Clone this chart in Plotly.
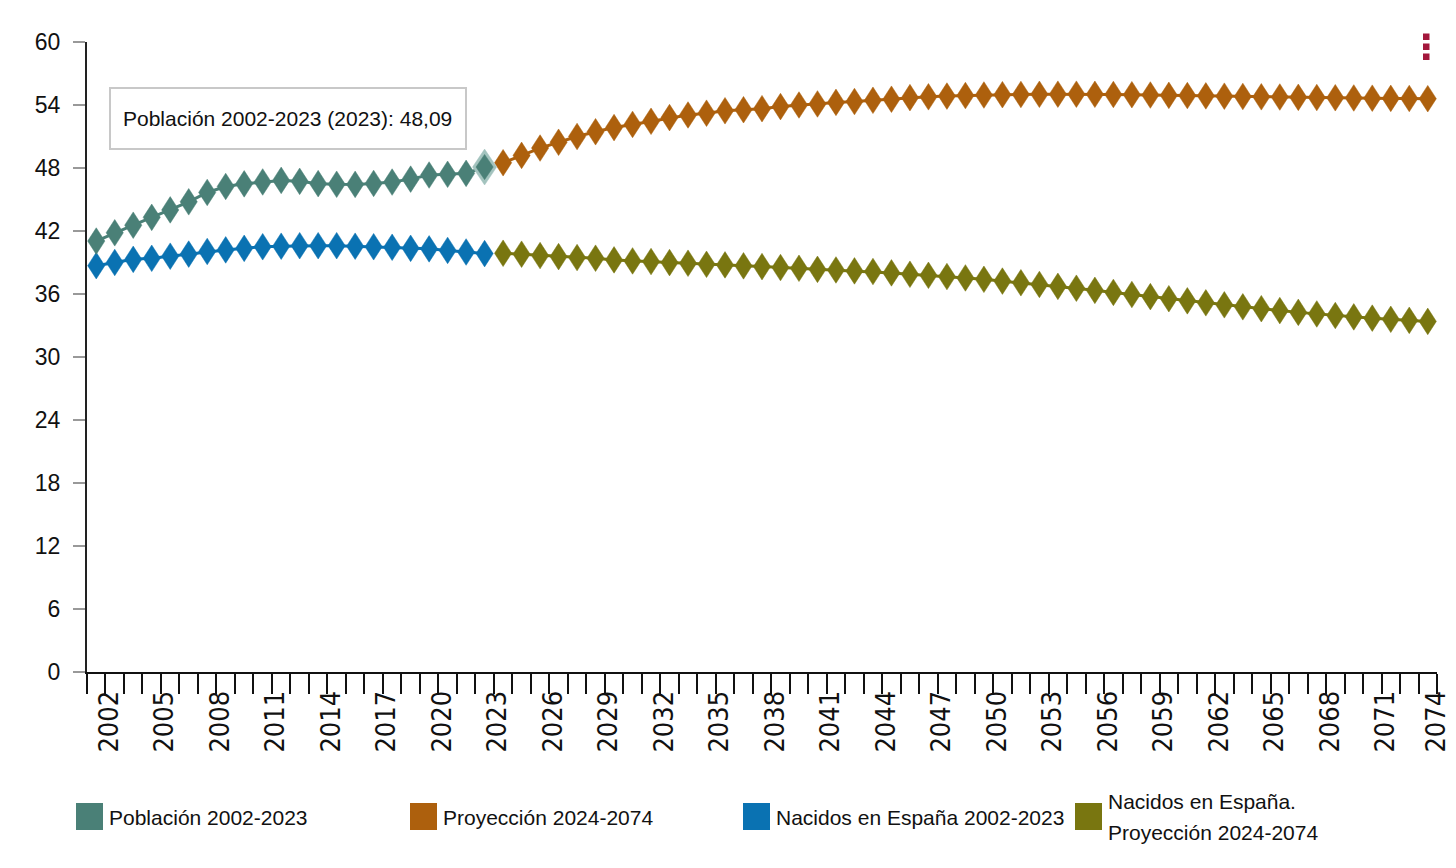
import plotly.graph_objects as go

# ---------------- data ----------------
years_hist = list(range(2002, 2024))
years_proj = list(range(2024, 2075))

poblacion = [41.04, 41.83, 42.55, 43.30, 44.01, 44.78, 45.67, 46.24, 46.49, 46.67,
             46.82, 46.73, 46.51, 46.45, 46.44, 46.53, 46.66, 46.94, 47.33, 47.40,
             47.49, 48.09]

nacidos = [38.70, 39.00, 39.30, 39.40, 39.60, 39.80, 40.05, 40.20, 40.35, 40.50,
           40.55, 40.60, 40.60, 40.60, 40.55, 40.50, 40.45, 40.35, 40.30, 40.15,
           40.00, 39.85]

proyeccion = [48.50, 49.20, 49.90, 50.45, 51.00, 51.45, 51.85, 52.15, 52.45, 52.80,
              53.05, 53.22, 53.45, 53.55, 53.65, 53.85, 54.00, 54.10, 54.25, 54.33,
              54.45, 54.55, 54.70, 54.78, 54.85, 54.90, 54.95, 54.98, 55.00, 55.02,
              55.03, 55.03, 55.02, 55.00, 54.98, 54.95, 54.92, 54.90, 54.87, 54.84,
              54.81, 54.78, 54.76, 54.73, 54.71, 54.69, 54.67, 54.65, 54.63, 54.62,
              54.60]

nacidos_proy = [39.88, 39.79, 39.66, 39.56, 39.47, 39.41, 39.25, 39.15, 39.09, 38.99,
                38.93, 38.83, 38.77, 38.68, 38.61, 38.52, 38.45, 38.35, 38.29, 38.20,
                38.14, 38.01, 37.88, 37.78, 37.66, 37.53, 37.40, 37.23, 37.07, 36.91,
                36.73, 36.55, 36.35, 36.15, 35.95, 35.75, 35.55, 35.35, 35.16, 34.97,
                34.78, 34.60, 34.42, 34.25, 34.10, 33.95, 33.82, 33.70, 33.59, 33.49,
                33.39]

series_names = ["Población 2002-2023", "Proyección 2024-2074",
                "Nacidos en España 2002-2023", "Nacidos en España. Proyección 2024-2074"]
label_years = list(range(2002, 2075, 3))
y_ticks = list(range(0, 61, 6))
tooltip_text = "Población 2002-2023 (2023): 48,09"

# ---------------- style ----------------
C_TEAL = "#4a8077"
C_ORANGE = "#ad600d"
C_BLUE = "#0a72b2"
C_OLIVE = "#797610"
C_HALO = "#a3c3be"
FONT = "Liberation Sans, Arial, sans-serif"
NARROW = "DejaVu Sans Condensed, sans-serif"

OFF = 8                      # default body margin of the html page
W, H = 1456 - OFF, 868 - OFF
L, T = 87 - OFF, 42 - OFF
R = W - (1437 - OFF)
B = H - (672 - OFF)
PW = W - L - R
PH = H - T - B
X0, X1 = 2001.5, 2074.5
Y0, Y1 = 0, 60

# marker half sizes expressed in axis units (tall diamonds like the original)
HALF_W_PX, HALF_H_PX = 8.6, 13.3
DX = HALF_W_PX * (X1 - X0) / PW
DY = HALF_H_PX * (Y1 - Y0) / PH


def xp(px):
    return (px - OFF - L) / PW


def yp(py):
    return (H + OFF - B - py) / PH


def diamonds(xs, ys, sx=1.0, sy=1.0):
    px, py = [], []
    for x, y in zip(xs, ys):
        px += [x - DX * sx, x, x + DX * sx, x, x - DX * sx, None]
        py += [y, y + DY * sy, y, y - DY * sy, y, None]
    return px, py


fig = go.Figure()


def add_series(x, y, color):
    fig.add_trace(go.Scatter(
        x=x, y=y, mode="lines", cliponaxis=False, showlegend=False,
        line=dict(color=color, width=3), hoverinfo="skip"))
    dx, dy = diamonds(x, y)
    fig.add_trace(go.Scatter(
        x=dx, y=dy, mode="lines", fill="toself", fillcolor=color,
        line=dict(color=color, width=0.5), cliponaxis=False, showlegend=False,
        hoverinfo="skip"))


add_series(years_hist, nacidos, C_BLUE)
add_series(years_proj, nacidos_proy, C_OLIVE)
add_series(years_proj, proyeccion, C_ORANGE)
add_series(years_hist, poblacion, C_TEAL)

# hovered point (2023) with halo
hx, hy = diamonds([years_hist[-1]], [poblacion[-1]], 1.4, 1.35)
fig.add_trace(go.Scatter(x=hx, y=hy, mode="lines", fill="toself", fillcolor=C_HALO,
                         line=dict(color=C_HALO, width=0.5), cliponaxis=False,
                         showlegend=False, hoverinfo="skip"))
ix, iy = diamonds([years_hist[-1]], [poblacion[-1]], 1.0, 0.95)
fig.add_trace(go.Scatter(x=ix, y=iy, mode="lines", fill="toself", fillcolor=C_TEAL,
                         line=dict(color=C_TEAL, width=0.5), cliponaxis=False,
                         showlegend=False, hoverinfo="skip"))

shapes = []
annotations = []

# tooltip box
shapes.append(dict(type="rect", xref="paper", yref="paper",
                   x0=xp(110), x1=xp(466), y0=yp(149), y1=yp(88),
                   fillcolor="white", line=dict(color="#c8c8c8", width=2), layer="above"))
annotations.append(dict(xref="paper", yref="paper", x=xp(121), y=yp(118),
                        xanchor="left", yanchor="middle", showarrow=False,
                        text=tooltip_text, font=dict(family=FONT, size=21, color="#111")))

# legend (manual)
leg_colors = [C_TEAL, C_ORANGE, C_BLUE, C_OLIVE]
leg_x = [76, 410, 743, 1075]
for i, (lx, col) in enumerate(zip(leg_x, leg_colors)):
    shapes.append(dict(type="rect", xref="paper", yref="paper",
                       x0=xp(lx), x1=xp(lx + 27), y0=yp(830), y1=yp(803),
                       fillcolor=col, line=dict(width=0)))
    if i < 3:
        annotations.append(dict(xref="paper", yref="paper", x=xp(lx + 31), y=yp(817),
                                xanchor="left", yanchor="middle", showarrow=False,
                                text=series_names[i],
                                font=dict(family=FONT, size=21, color="#111")))
    else:
        first, second = series_names[i].split(". ")
        annotations.append(dict(xref="paper", yref="paper", x=xp(lx + 31), y=yp(801),
                                xanchor="left", yanchor="middle", showarrow=False,
                                text=first + ".",
                                font=dict(family=FONT, size=21, color="#111")))
        annotations.append(dict(xref="paper", yref="paper", x=xp(lx + 31), y=yp(832),
                                xanchor="left", yanchor="middle", showarrow=False,
                                text=second,
                                font=dict(family=FONT, size=21, color="#111")))

# menu icon (three small squares)
for yy in (33.5, 43.5, 53.5):
    shapes.append(dict(type="rect", xref="paper", yref="paper",
                       x0=xp(1423), x1=xp(1429.5), y0=yp(yy + 6.5), y1=yp(yy),
                       fillcolor="#a3173c", line=dict(width=0)))

# tick label positions: slightly right of the category centre (as in the original),
# the last one sits at the axis end
label_pos = [min(yr + 0.7, X1 - 0.02) for yr in label_years]

fig.update_layout(
    width=W, height=H,
    margin=dict(l=L, r=R, t=T, b=B, autoexpand=False),
    paper_bgcolor="white", plot_bgcolor="white",
    showlegend=False,
    shapes=shapes, annotations=annotations,
    xaxis=dict(
        range=[X0, X1], showgrid=False, zeroline=False, automargin=False,
        showline=True, linecolor="#111", linewidth=2,
        tickmode="array",
        tickvals=label_pos,
        ticktext=[str(yr) for yr in label_years],
        tickangle=-90, ticks="outside", ticklen=6, tickcolor="rgba(0,0,0,0)",
        tickfont=dict(family=NARROW, size=27, color="#111"),
        minor=dict(tickmode="array",
                   tickvals=[X0 + i for i in range(len(years_hist) + len(years_proj) + 1)],
                   ticks="outside", ticklen=20, tickwidth=2, tickcolor="#111",
                   showgrid=False),
    ),
    yaxis=dict(
        range=[Y0, Y1], showgrid=False, zeroline=False, automargin=False,
        showline=True, linecolor="#222", linewidth=2,
        tickmode="array", tickvals=y_ticks, ticktext=[str(v) for v in y_ticks],
        ticks="outside", ticklen=12, tickwidth=2, tickcolor="#999",
        ticklabelstandoff=8,
        tickfont=dict(family=FONT, size=23, color="#111"),
    ),
)

fig.write_html("out.html")
